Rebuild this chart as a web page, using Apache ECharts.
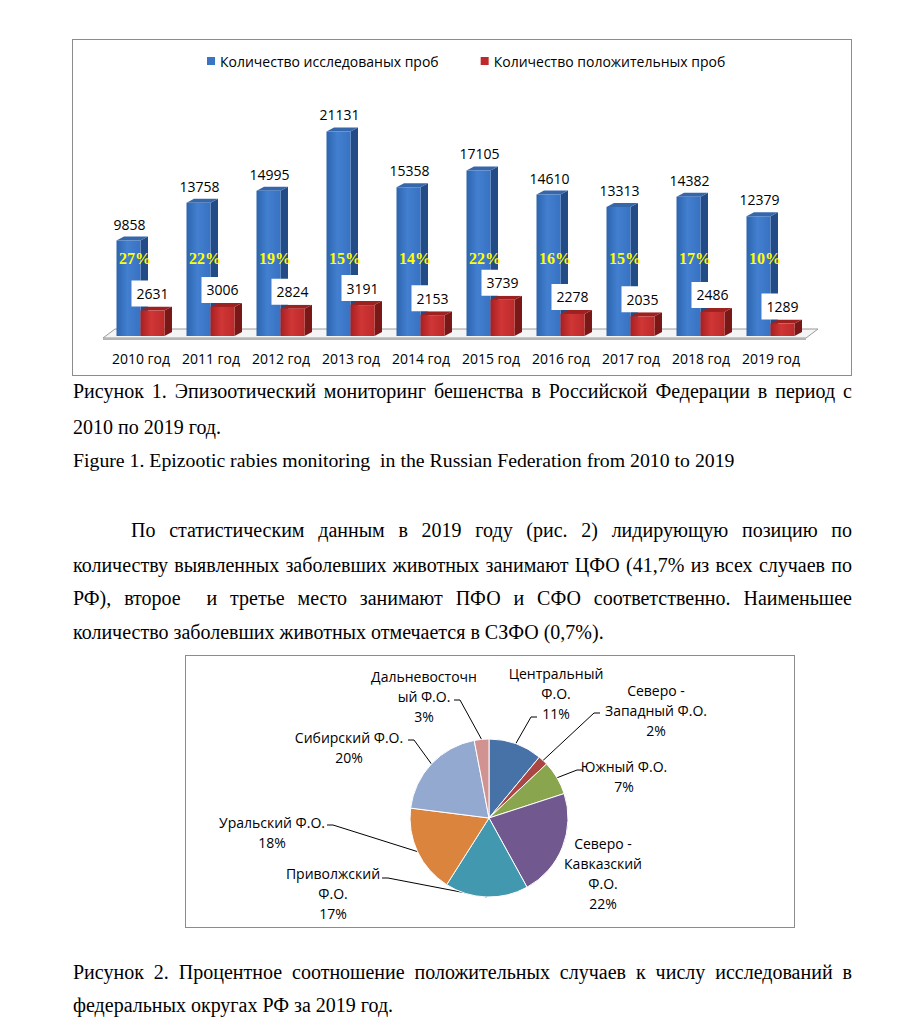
<!DOCTYPE html>
<html>
<head>
<meta charset="utf-8">
<script src="https://cdn.jsdelivr.net/npm/echarts@6/dist/echarts.min.js"></script>
<style>
html,body{margin:0;padding:0;background:#fff;width:901px;height:1022px;overflow:hidden;}
.ln{position:absolute;font-family:"Liberation Serif","Times New Roman",serif;font-size:20px;line-height:20px;color:#000;white-space:nowrap;}
.pre{white-space:pre;}
.j{text-align:justify;text-align-last:justify;}
#c1{position:absolute;left:72px;top:39px;width:780px;height:337px;border:1px solid #8c8c8c;box-sizing:border-box;}
#c2{position:absolute;left:185px;top:655px;width:610px;height:273px;border:1px solid #8c8c8c;box-sizing:border-box;}
</style>
</head>
<body>
<div id="c1"></div>
<div class="ln j" style="left:73px;top:381px;width:779px;">Рисунок 1. Эпизоотический мониторинг бешенства в Российской Федерации в период с</div>
<div class="ln pre" style="left:73px;top:417px;">2010 по 2019 год.</div>
<div class="ln pre" style="left:73px;top:450px;font-size:19.8px;">Figure 1. Epizootic rabies monitoring  in the Russian Federation from 2010 to 2019</div>
<div class="ln j" style="left:131px;top:520px;width:721px;">По статистическим данным в 2019 году (рис. 2) лидирующую позицию по</div>
<div class="ln j" style="left:73px;top:555px;width:779px;">количеству выявленных заболевших животных занимают ЦФО (41,7% из всех случаев по</div>
<div class="ln j" style="left:73px;top:588px;width:779px;">РФ), второе&nbsp; и третье место занимают ПФО и СФО соответственно. Наименьшее</div>
<div class="ln pre" style="left:73px;top:622px;">количество заболевших животных отмечается в СЗФО (0,7%).</div>
<div id="c2"></div>
<div class="ln j" style="left:73px;top:962px;width:779px;">Рисунок 2. Процентное соотношение положительных случаев к числу исследований в</div>
<div class="ln pre" style="left:73px;top:995px;">федеральных округах РФ за 2019 год.</div>

<script>
// ---------- Figure 1 data ----------
const years = ['2010 год','2011 год','2012 год','2013 год','2014 год','2015 год','2016 год','2017 год','2018 год','2019 год'];
const tested = [9858, 13758, 14995, 21131, 15358, 17105, 14610, 13313, 14382, 12379];
const positive = [2631, 3006, 2824, 3191, 2153, 3739, 2278, 2035, 2486, 1289];
const positiveShare = [27, 22, 19, 15, 14, 22, 16, 15, 17, 10];
const seriesNames = ['Количество исследованых проб', 'Количество положительных проб'];

// ---------- Figure 2 data ----------
const districts = ['Центральный\nФ.О.', 'Северо -\nЗападный Ф.О.', 'Южный Ф.О.', 'Северо -\nКавказский\nФ.О.', 'Приволжский\nФ.О.', 'Уральский Ф.О.', 'Сибирский Ф.О.', 'Дальневосточн\nый Ф.О.'];
const districtShare = [11, 2, 7, 22, 17, 18, 20, 3];

// ---------- styles / layout ----------
const FONT = '"Open Sans", "Noto Sans", sans-serif';
const pieColors = ['#4672A8', '#AA4643', '#89A54E', '#71588F', '#4198AF', '#DB843D', '#93A9CF', '#D19392'];
const pieLeader = [true, true, true, false, true, true, true, true];
// label centre offsets from pie centre
const pieLabelOffset = [[67,-125],[167,-108],[135,-42],[114,55],[-156,75],[-217,14],[-140,-71],[-65,-122]];
// leader start (next to the label text) offsets from pie centre
const pieLeaderStart = [[48,-101],[111,-105],[94,-48],[0,0],[-107,60],[-162,7],[-81,-78],[-35,-118]];
const PIE_C = [303, 162], PIE_R = 79, TICK = 6;

const BAR_W = 24, DX = 7.5, DY = -4;
const looks = {
  tested: {
    front: new echarts.graphic.LinearGradient(0,0,1,0,[{offset:0,color:'#2C64AE'},{offset:0.45,color:'#437FD0'},{offset:1,color:'#3872C2'}]),
    side: '#234C86', top: '#3767AB', legend: '#3A75C4'
  },
  positive: {
    front: new echarts.graphic.LinearGradient(0,0,1,0,[{offset:0,color:'#A81F22'},{offset:0.45,color:'#D03636'},{offset:1,color:'#BC2A2A'}]),
    side: '#7A1717', top: '#9C2222', legend: '#C0292B'
  }
};

function barRenderer(kind) {
  const lk = looks[kind];
  return function (params, api) {
    const i = api.value(0), v = api.value(1);
    const topPt = api.coord([i, v]);
    const basePt = api.coord([i, 0]);
    const c = topPt[0];
    const x0 = kind === 'tested' ? c - 24.5 : c - 0.5;
    const yT = topPt[1], yB = basePt[1];
    const w = BAR_W;
    const ch = [
      {type:'polygon', shape:{points:[[x0+w,yT],[x0+w+DX,yT+DY],[x0+w+DX,yB+DY],[x0+w,yB]]}, style:{fill:lk.side}},
      {type:'polygon', shape:{points:[[x0,yT],[x0+DX,yT+DY],[x0+w+DX,yT+DY],[x0+w,yT]]}, style:{fill:lk.top}},
      {type:'rect', shape:{x:x0, y:yT, width:w, height:yB-yT}, style:{fill:lk.front}}
    ];
    if (kind === 'tested') {
      ch.push({type:'text', x:x0 + w/2 + 1, y:yT + DY - 4.5,
        style:{text:String(v), align:'center', verticalAlign:'bottom', font:'14px ' + FONT, lineHeight:16, fill:'#000'}});
      const cs = params.coordSys;
      ch.push({type:'text', x:c - 6, y:cs.y + cs.height * 0.635,
        style:{text:positiveShare[i] + '%', align:'center', verticalAlign:'middle', font:'bold 16px "Liberation Serif", serif', fill:'#FFFF00'}});
    } else {
      ch.push({type:'text', x:x0 + w/2, y:yT + DY,
        style:{text:String(v), align:'center', verticalAlign:'bottom', font:'14px ' + FONT, lineHeight:18, padding:[4,5,4,5], backgroundColor:'#fff', fill:'#000'}});
    }
    return {type:'group', children:ch};
  };
}

const chart1 = echarts.init(document.getElementById('c1'), null, {renderer:'svg'});
chart1.setOption({
  animation: false,
  legend: {
    data: seriesNames, left: 129, top: 9, icon: 'rect', itemWidth: 8, itemHeight: 8, itemGap: 42,
    textStyle: {fontFamily: FONT, fontSize: 14, color: '#000'}, selectedMode: false
  },
  grid: {left: 33, top: 83, width: 700, height: 213},
  xAxis: {type:'category', data: years, axisLine:{show:false}, axisTick:{show:false},
    axisLabel:{margin:15, fontFamily:FONT, fontSize:14, color:'#000', interval:0}},
  yAxis: {type:'value', min:0, max:22000, show:false},
  series: [
    {type:'custom', name:'floor', silent:true, data:[[0,0]],
      renderItem: function (params, api) {
        const cs = params.coordSys;
        const base = api.coord([0,0])[1];
        const L = cs.x - 3, R = cs.x + cs.width;
        return {type:'group', children:[
          {type:'polygon', shape:{points:[[L,base+2],[R,base+2],[R+12,base-7],[L+12,base-7]]}, style:{fill:'#f5f5f5', stroke:'#9a9a9a', lineWidth:1}},
          {type:'polygon', shape:{points:[[L,base+2],[R,base+2],[R,base+4],[L,base+4]]}, style:{fill:'#b5b5b5'}}
        ]};
      }},
    {type:'custom', name: seriesNames[0], silent:true, itemStyle:{color:looks.tested.legend},
      encode:{x:0, y:1}, data: tested.map((v,i)=>[i,v]), renderItem: barRenderer('tested')},
    {type:'custom', name: seriesNames[1], silent:true, itemStyle:{color:looks.positive.legend},
      encode:{x:0, y:1}, data: positive.map((v,i)=>[i,v]), renderItem: barRenderer('positive')}
  ]
});

// mid-angle (clockwise from 12 o'clock) of each slice, from the data
const shareTotal = districtShare.reduce((a,b)=>a+b, 0);
const midAngle = [];
districtShare.reduce((cum, s) => { midAngle.push((cum + s/2) / shareTotal * 2 * Math.PI); return cum + s; }, 0);

const chart2 = echarts.init(document.getElementById('c2'), null, {renderer:'svg'});
chart2.setOption({
  animation: false,
  series: [{
    type:'pie', center: PIE_C, radius: PIE_R, startAngle: 90, clockwise: true, silent: true,
    itemStyle: {borderColor:'#ffffff', borderWidth:1},
    label: {show:true, position:'outside', formatter:'{b}\n{c}%', fontFamily:FONT, fontSize:14, lineHeight:20, color:'#000', align:'center'},
    labelLine: {show:true, length:8, length2:8, lineStyle:{color:'#000', width:1}},
    labelLayout: function (p) {
      const k = p.dataIndex;
      const o = pieLabelOffset[k];
      const res = {x: PIE_C[0] + o[0], y: PIE_C[1] + o[1], align:'center', verticalAlign:'middle'};
      if (pieLeader[k]) {
        const s = pieLeaderStart[k];
        const a = midAngle[k];
        const end = [PIE_C[0] + PIE_R * Math.sin(a), PIE_C[1] - PIE_R * Math.cos(a)];
        const p0 = [PIE_C[0] + s[0], PIE_C[1] + s[1]];
        const p1 = [p0[0] + (s[0] > 0 ? -TICK : TICK), p0[1]];
        res.labelLinePoints = [p0, p1, end];
      }
      return res;
    },
    data: districts.map((n,i)=>({name:n, value:districtShare[i], itemStyle:{color:pieColors[i]}, labelLine:{show:pieLeader[i]}}))
  }]
});
</script>
</body>
</html>
